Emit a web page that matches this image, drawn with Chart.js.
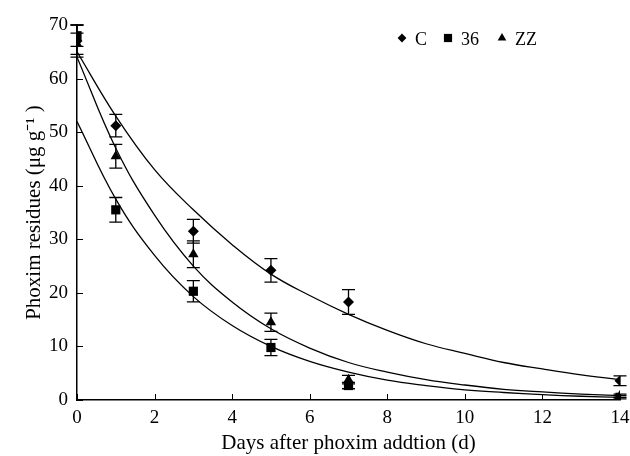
<!DOCTYPE html>
<html>
<head>
<meta charset="utf-8">
<script src="https://cdn.jsdelivr.net/npm/chart.js@4"></script>
<style>
  body { margin: 0; background: #fff; }
</style>
</head>
<body>
<canvas id="myChart" width="630" height="456"></canvas>
<script>
// measured days
const days = [0, 1, 3, 5, 7, 14];

// C (diamond)
const cMean = [67, 51.2, 31.5, 24.2, 18.3, 3.6];
const cErr = [3, 2.1, 2.2, 2.2, 2.3, 0.9];

// 36 (square)
const s36Mean = [68, 35.5, 20.3, 9.8, 2.7, 0.5];
const s36Err = [2, 2.3, 2, 1.5, 0.6, 0.3];

// ZZ (triangle)
const zzMean = [66.5, 45.5, 27.2, 14.5, 3.8, 0.8];
const zzErr = [2, 2.2, 2.5, 1.7, 0.8, 0.3];

// fitted curves
const fitDays = [0, 1, 2, 3, 4, 5, 6, 7, 8, 9, 10, 11, 12, 13, 14];
const cFit = [65, 53, 43, 35.5, 29, 23.5, 19.5, 16, 13, 10.5, 8.7, 7, 5.8, 4.7, 3.8];
const zzFit = [64, 47, 34.5, 25, 18.3, 13.3, 9.7, 7, 5.2, 3.8, 2.8, 2, 1.5, 1.1, 0.8];
const s36Fit = [52, 37.5, 27, 19.3, 13.9, 10, 7.2, 5.2, 3.7, 2.7, 1.9, 1.4, 1, 0.7, 0.5];

const xTicks = [0, 2, 4, 6, 8, 10, 12, 14];
const yTicks = [0, 10, 20, 30, 40, 50, 60, 70];

const legendNames = ["C", "36", "ZZ"];
const legendStyles = ["rectRot", "rect", "triangle"];
const legendRadius = [4.4, 5.8, 5];

const toPoints = (xs, ys) => xs.map((x, i) => ({ x: x, y: ys[i] }));

const font = "Liberation Serif";

const pointSet = (label, mean, err, style, radius) => ({
  type: "scatter",
  label: label,
  data: toPoints(days, mean),
  errors: err,
  pointStyle: style,
  pointRadius: radius,
  backgroundColor: "#000",
  borderColor: "#000",
  borderWidth: 0,
  order: 0,
});

const fitSet = (values) => ({
  type: "line",
  label: "",
  data: toPoints(fitDays, values),
  borderColor: "#000",
  borderWidth: 1.3,
  pointRadius: 0,
  tension: 0.4,
  fill: false,
  order: 1,
});

// error bars, inward tick marks and the in-plot legend
const extras = {
  id: "extras",
  afterDatasetsDraw(chart) {
    const ctx = chart.ctx;
    const xs = chart.scales.x;
    const ys = chart.scales.y;
    ctx.save();
    ctx.strokeStyle = "#000";
    ctx.lineWidth = 1.3;
    chart.data.datasets.forEach((ds) => {
      if (!ds.errors) return;
      ds.data.forEach((p, i) => {
        const px = xs.getPixelForValue(p.x);
        const top = ys.getPixelForValue(p.y + ds.errors[i]);
        const bot = ys.getPixelForValue(Math.max(0, p.y - ds.errors[i]));
        ctx.beginPath();
        ctx.moveTo(px, top);
        ctx.lineTo(px, bot);
        ctx.moveTo(px - 6.5, top);
        ctx.lineTo(px + 6.5, top);
        ctx.moveTo(px - 6.5, bot);
        ctx.lineTo(px + 6.5, bot);
        ctx.stroke();
      });
    });

    // inward ticks
    ctx.lineWidth = 1;
    const b = ys.getPixelForValue(0);
    const l = xs.getPixelForValue(0);
    xTicks.forEach((t) => {
      const px = Math.round(xs.getPixelForValue(t)) + 0.5;
      ctx.beginPath();
      ctx.moveTo(px, b);
      ctx.lineTo(px, b - 6);
      ctx.stroke();
    });
    yTicks.forEach((t) => {
      const py = Math.round(ys.getPixelForValue(t)) + 0.5;
      ctx.beginPath();
      ctx.moveTo(l, py);
      ctx.lineTo(l + 6, py);
      ctx.stroke();
    });

    // legend
    ctx.fillStyle = "#000";
    ctx.font = "18px '" + font + "'";
    ctx.textBaseline = "middle";
    const legendX = [402, 448, 502];
    const ly = 39;
    legendNames.forEach((name, i) => {
      Chart.helpers.drawPoint(ctx, { pointStyle: legendStyles[i], radius: legendRadius[i], borderWidth: 0 }, legendX[i], ly - 1);
      ctx.fillText(name, legendX[i] + 13, ly + 1);
    });
    ctx.restore();
  },
};

const ctx = document.getElementById("myChart").getContext("2d");
new Chart(ctx, {
  data: {
    datasets: [
      pointSet("C", cMean, cErr, "rectRot", 5.5),
      pointSet("36", s36Mean, s36Err, "rect", 6.5),
      pointSet("ZZ", zzMean, zzErr, "triangle", 6),
      fitSet(cFit),
      fitSet(zzFit),
      fitSet(s36Fit),
    ],
  },
  options: {
    responsive: false,
    animation: false,
    layout: { padding: { top: 25, right: 0, left: 0, bottom: 0 } },
    plugins: {
      legend: { display: false },
      tooltip: { enabled: false },
    },
    scales: {
      x: {
        type: "linear",
        min: 0,
        max: 14,
        afterBuildTicks: (axis) => {
          axis.ticks = xTicks.map((v) => ({ value: v }));
        },
        afterFit: (axis) => {
          axis.height = 56;
          axis.paddingRight = 10;
          axis.paddingLeft = 0;
        },
        grid: { display: false, drawTicks: false, tickLength: 0 },
        border: { display: true, color: "#000", width: 1.5 },
        ticks: { color: "#000", font: { family: font, size: 19 }, padding: 7 },
        title: {
          display: true,
          text: "Days after phoxim addtion (d)",
          color: "#000",
          font: { family: font, size: 21 },
          padding: { top: 0, bottom: 0 },
        },
      },
      y: {
        type: "linear",
        min: 0,
        max: 70,
        afterBuildTicks: (axis) => {
          axis.ticks = yTicks.map((v) => ({ value: v }));
        },
        afterFit: (axis) => {
          axis.width = 77;
        },
        grid: { display: false, drawTicks: false, tickLength: 0 },
        border: { display: true, color: "#000", width: 1.5 },
        ticks: { color: "#000", font: { family: font, size: 19 }, padding: 9 },
        title: {
          display: true,
          text: "Phoxim residues (μg g⁻¹ )",
          color: "#000",
          font: { family: font, size: 21 },
          padding: { top: 22, bottom: 0 },
        },
      },
    },
  },
  plugins: [extras],
});
</script>
</body>
</html>
